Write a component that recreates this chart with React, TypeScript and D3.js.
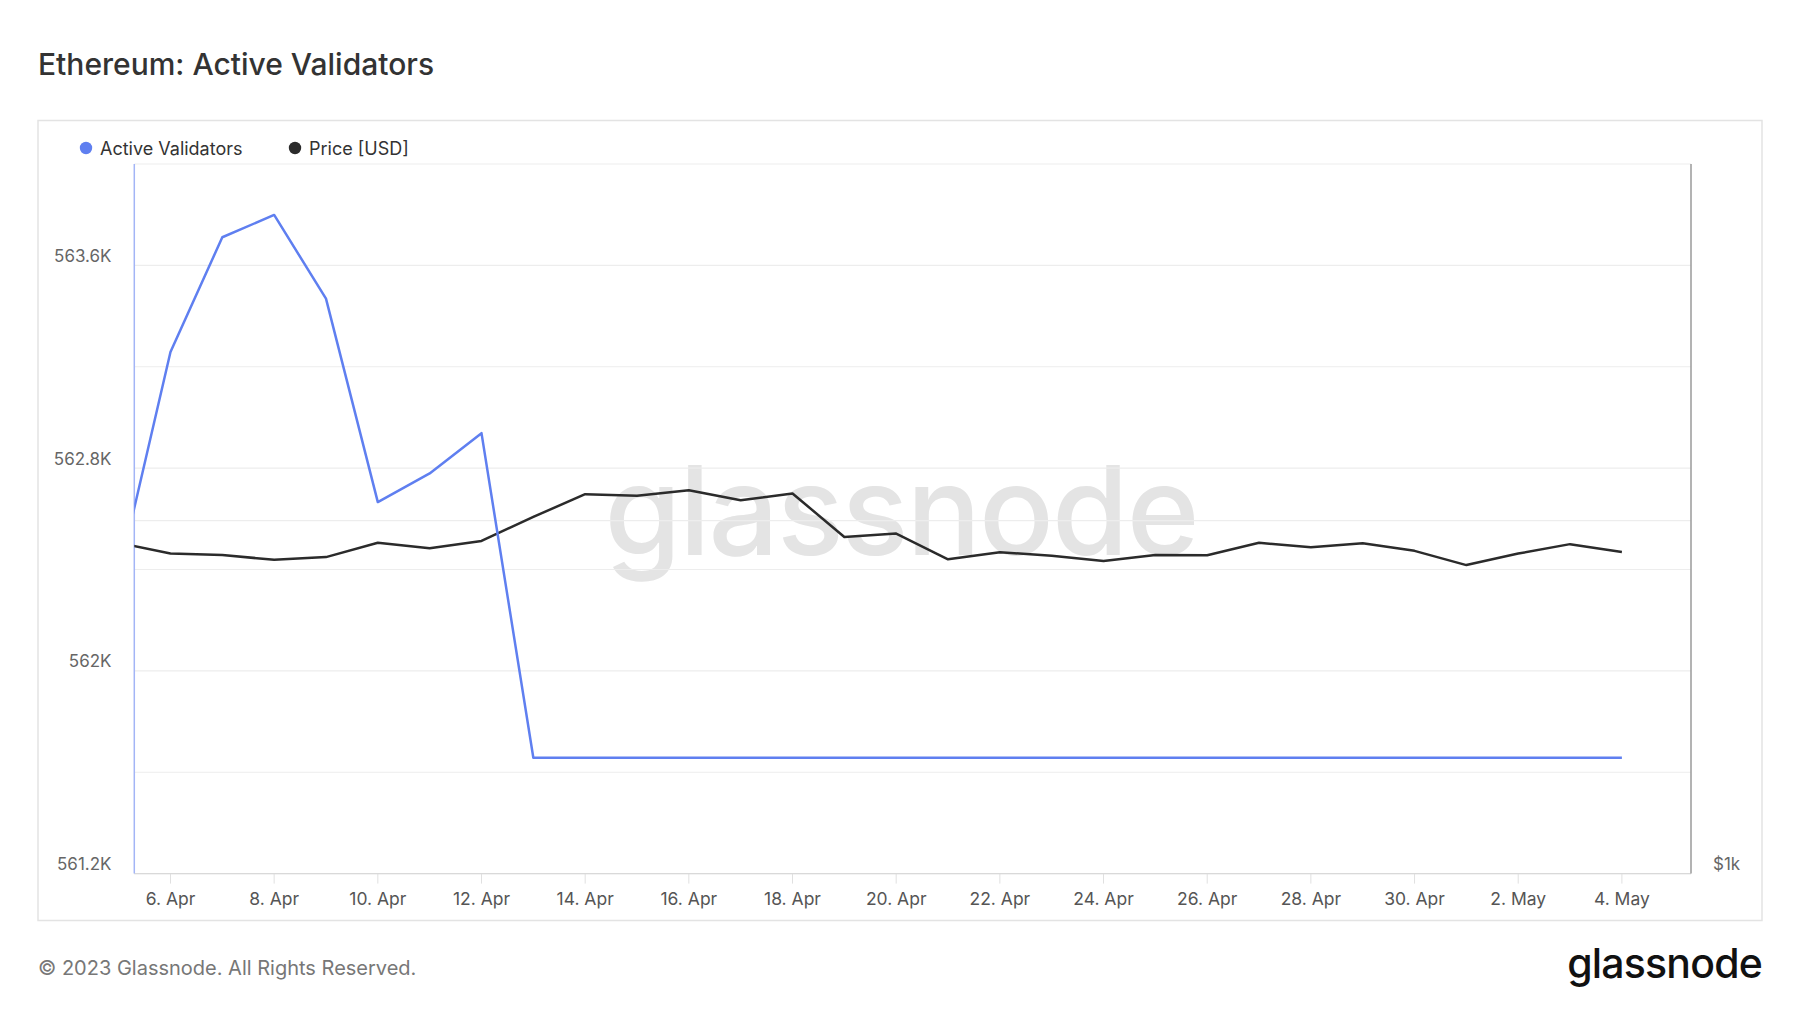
import React from "react";
import * as d3 from "d3";

// ---- data ----
const dates: string[] = [
  "2023-04-05", "2023-04-06", "2023-04-07", "2023-04-08", "2023-04-09", "2023-04-10",
  "2023-04-11", "2023-04-12", "2023-04-13", "2023-04-14", "2023-04-15", "2023-04-16",
  "2023-04-17", "2023-04-18", "2023-04-19", "2023-04-20", "2023-04-21", "2023-04-22",
  "2023-04-23", "2023-04-24", "2023-04-25", "2023-04-26", "2023-04-27", "2023-04-28",
  "2023-04-29", "2023-04-30", "2023-05-01", "2023-05-02", "2023-05-03", "2023-05-04",
];

const activeValidators: number[] = [
  562377, 563258, 563711, 563799, 563469, 562666,
  562779, 562938, 561657, 561657, 561657, 561657,
  561657, 561657, 561657, 561657, 561657, 561657,
  561657, 561657, 561657, 561657, 561657, 561657,
  561657, 561657, 561657, 561657, 561657, 561657,
];

const priceUsd: number[] = [
  1915, 1875, 1870, 1852, 1862, 1915,
  1895, 1922, 2015, 2107, 2100, 2123,
  2082, 2110, 1937, 1950, 1854, 1880,
  1867, 1848, 1870, 1869, 1915, 1898,
  1913, 1885, 1833, 1875, 1910, 1881,
];

const xDomain: string[] = ["2023-04-05T07:15:00Z", "2023-05-05T08:00:00Z"];
const xTickDates: string[] = [
  "2023-04-06", "2023-04-08", "2023-04-10", "2023-04-12", "2023-04-14", "2023-04-16",
  "2023-04-18", "2023-04-20", "2023-04-22", "2023-04-24", "2023-04-26", "2023-04-28",
  "2023-04-30", "2023-05-02", "2023-05-04",
];

const validatorDomain: number[] = [561200, 564000];
const validatorGrid: number[] = [561200, 561600, 562000, 562400, 562800, 563200, 563600, 564000];
const validatorLabels: number[] = [561200, 562000, 562800, 563600];

const priceDomain: number[] = [1000, 4030];
const priceGrid: number[] = [2000];
const priceLabels: number[] = [1000];

const title = "Ethereum: Active Validators";
const legendItems: { name: string; color: string }[] = [
  { name: "Active Validators", color: "#5f7ff0" },
  { name: "Price [USD]", color: "#2b2b2b" },
];

// ---- layout ----
const W = 1800;
const H = 1013;
const plot = { left: 134.3, right: 1691, top: 164, bottom: 873.6 };
const FONT = "Inter, 'Noto Sans', sans-serif";

export default function App() {
  const parse = (s: string) => new Date(s.length === 10 ? s + "T00:00:00Z" : s);
  const x = d3.scaleUtc().domain(xDomain.map(parse)).range([plot.left, plot.right]);
  const yV = d3.scaleLinear().domain(validatorDomain).range([plot.bottom, plot.top]);
  const yP = d3.scaleLog().domain(priceDomain).range([plot.bottom, plot.top]);

  const vPts = dates.map((d, i) => [x(parse(d)), yV(activeValidators[i])] as [number, number]);
  const pPts = dates.map((d, i) => [x(parse(d)), yP(priceUsd[i])] as [number, number]);
  const line = d3.line();
  const fmtDate = d3.utcFormat("%-d. %b");
  const fmtK = (v: number) => `${+(v / 1000).toFixed(1)}K`;
  const fmtUsd = (v: number) => `$${v / 1000}k`;

  return (
    <svg
      width={W}
      height={H}
      viewBox={`0 0 ${W} ${H}`}
      style={{ position: "absolute", left: 0, top: 0, background: "#fff" }}
      fontFamily={FONT}
    >
      <defs>
        <clipPath id="plotClip">
          <rect x={plot.left} y={plot.top - 2} width={plot.right - plot.left} height={plot.bottom - plot.top + 4} />
        </clipPath>
      </defs>
      <rect x={0} y={0} width={W} height={H} fill="#fff" />

      <text x={38} y={75} fontSize={30} fontWeight={500} fill="#333">{title}</text>

      {/* outer box */}
      <rect x={38} y={120.5} width={1724} height={800} fill="none" stroke="#e3e3e3" strokeWidth={1.5} />

      {/* legend */}
      {legendItems.map((it, i) => {
        const lx = i === 0 ? 86 : 295;
        return (
          <g key={it.name}>
            <circle cx={lx} cy={148} r={6.2} fill={it.color} />
            <text x={lx + 14} y={154.5} fontSize={18} fill="#333">{it.name}</text>
          </g>
        );
      })}

      {/* watermark */}
      <text x={901} y={555} fontSize={124} fontWeight={500} fill="#e4e4e4" textAnchor="middle" letterSpacing={-2}>glassnode</text>

      {/* grid */}
      {validatorGrid.map((v) => (
        <line key={"g" + v} x1={plot.left} x2={plot.right} y1={yV(v)} y2={yV(v)} stroke="#ededed" strokeWidth={1.2} />
      ))}
      {priceGrid.map((v) => (
        <line key={"p" + v} x1={plot.left} x2={plot.right} y1={yP(v)} y2={yP(v)} stroke="#ededed" strokeWidth={1.2} />
      ))}

      {/* x ticks */}
      {xTickDates.map((d) => {
        const xx = x(parse(d));
        return (
          <g key={d}>
            <line x1={xx} x2={xx} y1={plot.bottom} y2={plot.bottom + 10} stroke="#e0e0e0" strokeWidth={1} />
            <text x={xx} y={904.5} fontSize={17.5} fill="#555" textAnchor="middle">{fmtDate(parse(d))}</text>
          </g>
        );
      })}

      {/* axis lines */}
      <line x1={plot.left} x2={plot.right} y1={plot.bottom} y2={plot.bottom} stroke="#d9d9d9" strokeWidth={1.2} />
      <line x1={plot.left} x2={plot.left} y1={plot.top} y2={plot.bottom} stroke="#a3b5f6" strokeWidth={1.5} />
      <line x1={plot.right} x2={plot.right} y1={plot.top} y2={plot.bottom} stroke="#9a9a9a" strokeWidth={1.5} />

      {/* y labels */}
      {validatorLabels.map((v) => (
        <text key={"l" + v} x={111.5} y={yV(v) - 3.5} fontSize={17} fill="#666" textAnchor="end">{fmtK(v)}</text>
      ))}
      {priceLabels.map((v) => (
        <text key={"r" + v} x={1713} y={yP(v) - 3.5} fontSize={17} fill="#666">{fmtUsd(v)}</text>
      ))}

      {/* series */}
      <g clipPath="url(#plotClip)">
        <path d={line(pPts) || ""} fill="none" stroke="#2b2b2b" strokeWidth={2.5} strokeLinejoin="round" />
        <path d={line(vPts) || ""} fill="none" stroke="#5f7ff0" strokeWidth={2.5} strokeLinejoin="round" />
      </g>

      {/* footer */}
      <text x={38} y={974.5} fontSize={20} fill="#777">© 2023 Glassnode. All Rights Reserved.</text>
      <text x={1762} y={978} fontSize={41} fontWeight={500} fill="#111" textAnchor="end" letterSpacing={-0.8}>glassnode</text>
    </svg>
  );
}
